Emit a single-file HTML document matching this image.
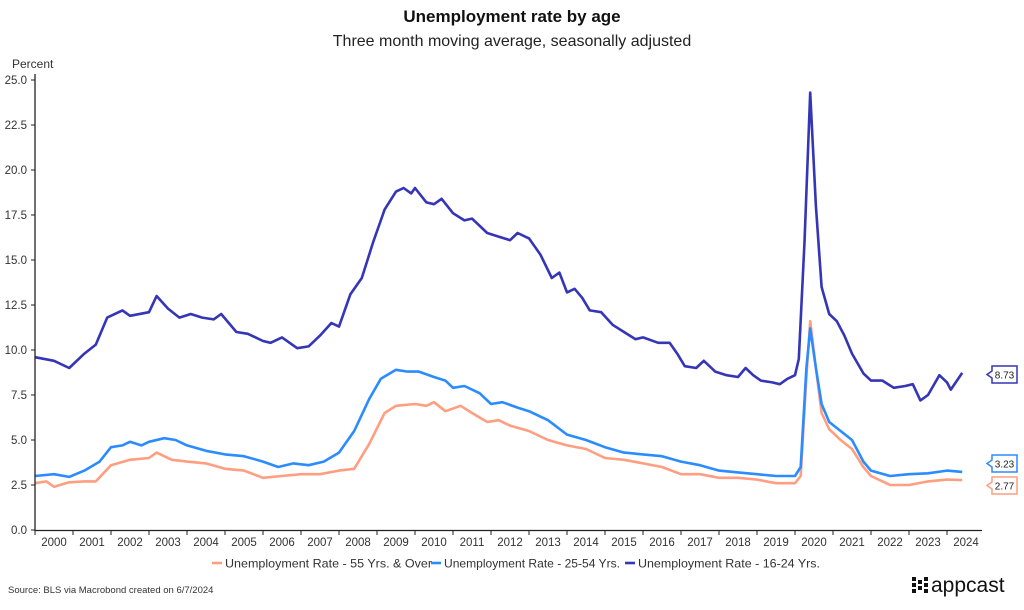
<!DOCTYPE html>
<html><head><meta charset="utf-8"><style>
body{margin:0;width:1024px;height:605px;background:#fff;font-family:"Liberation Sans",sans-serif;overflow:hidden}
</style></head><body>
<svg id="s" width="1024" height="605" xmlns="http://www.w3.org/2000/svg" font-family="Liberation Sans, sans-serif">
<text x="512" y="22" text-anchor="middle" font-size="17" font-weight="bold" fill="#111">Unemployment rate by age</text>
<text x="512" y="46" text-anchor="middle" font-size="16" fill="#222">Three month moving average, seasonally adjusted</text>
<text x="12" y="68" font-size="12" fill="#333">Percent</text>
<g id="ax" font-size="11.5" fill="#333"></g>
<g id="lines" fill="none" stroke-width="2.6" stroke-linejoin="round"></g>
<line x1="35" y1="74" x2="35" y2="531" stroke="#222" stroke-width="1.3"/>
<line x1="35" y1="530.5" x2="982" y2="530.5" stroke="#222" stroke-width="1.3"/>
<g font-size="10" fill="#222">
<path d="M992 366 h25 v17 h-25 v-5 l-5 -3.5 l5 -3.5z" fill="#fff" stroke="#3535b8" stroke-width="1.5"/><text x="1004.5" y="378.5" text-anchor="middle">8.73</text>
<path d="M992 455 h25 v17 h-25 v-5 l-5 -3.5 l5 -3.5z" fill="#fff" stroke="#2b8cff" stroke-width="1.5"/><text x="1004.5" y="467.5" text-anchor="middle">3.23</text>
<path d="M992 477 h25 v17 h-25 v-5 l-5 -3.5 l5 -3.5z" fill="#fff" stroke="#ff9e80" stroke-width="1.5"/><text x="1004.5" y="489.5" text-anchor="middle">2.77</text>
</g>
<g font-size="12" fill="#333">
<line x1="212" y1="563" x2="222" y2="563" stroke="#ff9e80" stroke-width="2.6"/><text x="225" y="567.5" textLength="207" lengthAdjust="spacingAndGlyphs">Unemployment Rate - 55 Yrs. &amp; Over</text>
<line x1="431" y1="563" x2="441" y2="563" stroke="#2b8cff" stroke-width="2.6"/><text x="444" y="567.5" textLength="176" lengthAdjust="spacingAndGlyphs">Unemployment Rate - 25-54 Yrs.</text>
<line x1="625" y1="563" x2="635" y2="563" stroke="#3535b8" stroke-width="2.6"/><text x="638" y="567.5" textLength="182" lengthAdjust="spacingAndGlyphs">Unemployment Rate - 16-24 Yrs.</text>
</g>
<text x="8" y="593" font-size="9.5" fill="#333">Source: BLS via Macrobond created on 6/7/2024</text>
<g fill="#111">
<rect x="912" y="577" width="4" height="4"/><rect x="912" y="583" width="4" height="4"/><rect x="912" y="589" width="4" height="4"/>
<rect x="918" y="580" width="4" height="4"/><rect x="918" y="586" width="4" height="4"/>
<rect x="924" y="577" width="4" height="4"/><rect x="924" y="583" width="4" height="4"/><rect x="924" y="589" width="4" height="4"/>
</g>
<text x="931" y="592" font-size="21" fill="#111">appcast</text>
</svg>
<script>
var ax=document.getElementById('ax'),L=document.getElementById('lines'),NS='http://www.w3.org/2000/svg';
function X(t){return 35+(t-2000)*38}function Y(v){return 530-v*18}
function el(n,a,t){var e=document.createElementNS(NS,n);for(var k in a)e.setAttribute(k,a[k]);if(t)e.textContent=t;return e}
for(var i=0;i<=10;i++){var v=i*2.5;ax.appendChild(el('text',{x:27,y:Y(v)+4,'text-anchor':'end'},v.toFixed(1)));ax.appendChild(el('line',{x1:31,x2:35,y1:Y(v),y2:Y(v),stroke:'#222'}))}
for(var y=2000;y<=2024;y++){ax.appendChild(el('line',{x1:X(y),x2:X(y),y1:530,y2:535,stroke:'#222'}));ax.appendChild(el('text',{x:X(y)+19,y:546,'text-anchor':'middle'},''+y))}
var A=[2000,9.6,2000.5,9.4,2000.9,9.0,2001.3,9.8,2001.6,10.3,2001.9,11.8,2002.3,12.2,2002.5,11.9,2003.0,12.1,2003.2,13.0,2003.5,12.3,2003.8,11.8,2004.1,12.0,2004.4,11.8,2004.7,11.7,2004.9,12.0,2005.3,11.0,2005.6,10.9,2006.0,10.5,2006.2,10.4,2006.5,10.7,2006.9,10.1,2007.2,10.2,2007.5,10.8,2007.8,11.5,2008.0,11.3,2008.3,13.1,2008.6,14.0,2008.9,16.0,2009.2,17.8,2009.5,18.8,2009.7,19.0,2009.9,18.7,2010.0,19.0,2010.3,18.2,2010.5,18.1,2010.7,18.4,2011.0,17.6,2011.3,17.2,2011.5,17.3,2011.9,16.5,2012.2,16.3,2012.5,16.1,2012.7,16.5,2013.0,16.2,2013.3,15.3,2013.6,14.0,2013.8,14.3,2014.0,13.2,2014.2,13.4,2014.4,12.9,2014.6,12.2,2014.9,12.1,2015.2,11.4,2015.5,11.0,2015.8,10.6,2016.0,10.7,2016.4,10.4,2016.7,10.4,2016.9,9.8,2017.1,9.1,2017.4,9.0,2017.6,9.4,2017.9,8.8,2018.2,8.6,2018.5,8.5,2018.7,9.0,2018.9,8.6,2019.1,8.3,2019.4,8.2,2019.6,8.1,2019.8,8.4,2020.0,8.6,2020.1,9.5,2020.25,16.0,2020.4,24.3,2020.55,18,2020.7,13.5,2020.9,12.0,2021.1,11.6,2021.3,10.8,2021.5,9.8,2021.8,8.7,2022.0,8.3,2022.3,8.3,2022.6,7.9,2022.9,8.0,2023.1,8.1,2023.3,7.2,2023.5,7.5,2023.8,8.6,2024.0,8.2,2024.1,7.8,2024.4,8.73];
var B=[2000,3.0,2000.5,3.1,2000.9,2.95,2001.3,3.3,2001.7,3.8,2002.0,4.6,2002.3,4.7,2002.5,4.9,2002.8,4.7,2003.0,4.9,2003.4,5.1,2003.7,5.0,2004.0,4.7,2004.5,4.4,2005.0,4.2,2005.5,4.1,2006.0,3.8,2006.4,3.5,2006.8,3.7,2007.2,3.6,2007.6,3.8,2008.0,4.3,2008.4,5.5,2008.8,7.3,2009.1,8.4,2009.5,8.9,2009.8,8.8,2010.1,8.8,2010.5,8.5,2010.8,8.3,2011.0,7.9,2011.3,8.0,2011.7,7.6,2012.0,7.0,2012.3,7.1,2012.7,6.8,2013.0,6.6,2013.5,6.1,2014.0,5.3,2014.5,5.0,2015.0,4.6,2015.5,4.3,2016.0,4.2,2016.5,4.1,2017.0,3.8,2017.5,3.6,2018.0,3.3,2018.5,3.2,2019.0,3.1,2019.5,3.0,2020.0,3.0,2020.15,3.5,2020.3,9.0,2020.4,11.2,2020.55,9.0,2020.7,7.0,2020.9,6.0,2021.2,5.5,2021.5,5.0,2021.8,3.8,2022.0,3.3,2022.5,3.0,2023.0,3.1,2023.5,3.15,2024.0,3.3,2024.4,3.23];
var C=[2000,2.6,2000.3,2.7,2000.5,2.4,2000.9,2.65,2001.3,2.7,2001.6,2.7,2002.0,3.6,2002.5,3.9,2003.0,4.0,2003.2,4.3,2003.6,3.9,2004.0,3.8,2004.5,3.7,2005.0,3.4,2005.5,3.3,2006.0,2.9,2006.5,3.0,2007.0,3.1,2007.5,3.1,2008.0,3.3,2008.4,3.4,2008.8,4.8,2009.2,6.5,2009.5,6.9,2010.0,7.0,2010.3,6.9,2010.5,7.1,2010.8,6.6,2011.2,6.9,2011.5,6.5,2011.9,6.0,2012.2,6.1,2012.5,5.8,2013.0,5.5,2013.5,5.0,2014.0,4.7,2014.5,4.5,2015.0,4.0,2015.5,3.9,2016.0,3.7,2016.5,3.5,2017.0,3.1,2017.5,3.1,2018.0,2.9,2018.5,2.9,2019.0,2.8,2019.5,2.6,2020.0,2.6,2020.15,3.0,2020.3,8.5,2020.4,11.6,2020.55,9.0,2020.7,6.5,2020.9,5.6,2021.2,5.0,2021.5,4.5,2021.8,3.5,2022.0,3.0,2022.5,2.5,2023.0,2.5,2023.5,2.7,2024.0,2.8,2024.4,2.77];
function P(d,c){var p=[];for(var i=0;i<d.length;i+=2)p.push(X(d[i]).toFixed(1)+','+Y(d[i+1]).toFixed(1));L.appendChild(el('polyline',{points:p.join(' '),stroke:c}))}
P(C,'#ff9e80');P(B,'#2b8cff');P(A,'#3535b8');
</script>
</body></html>
